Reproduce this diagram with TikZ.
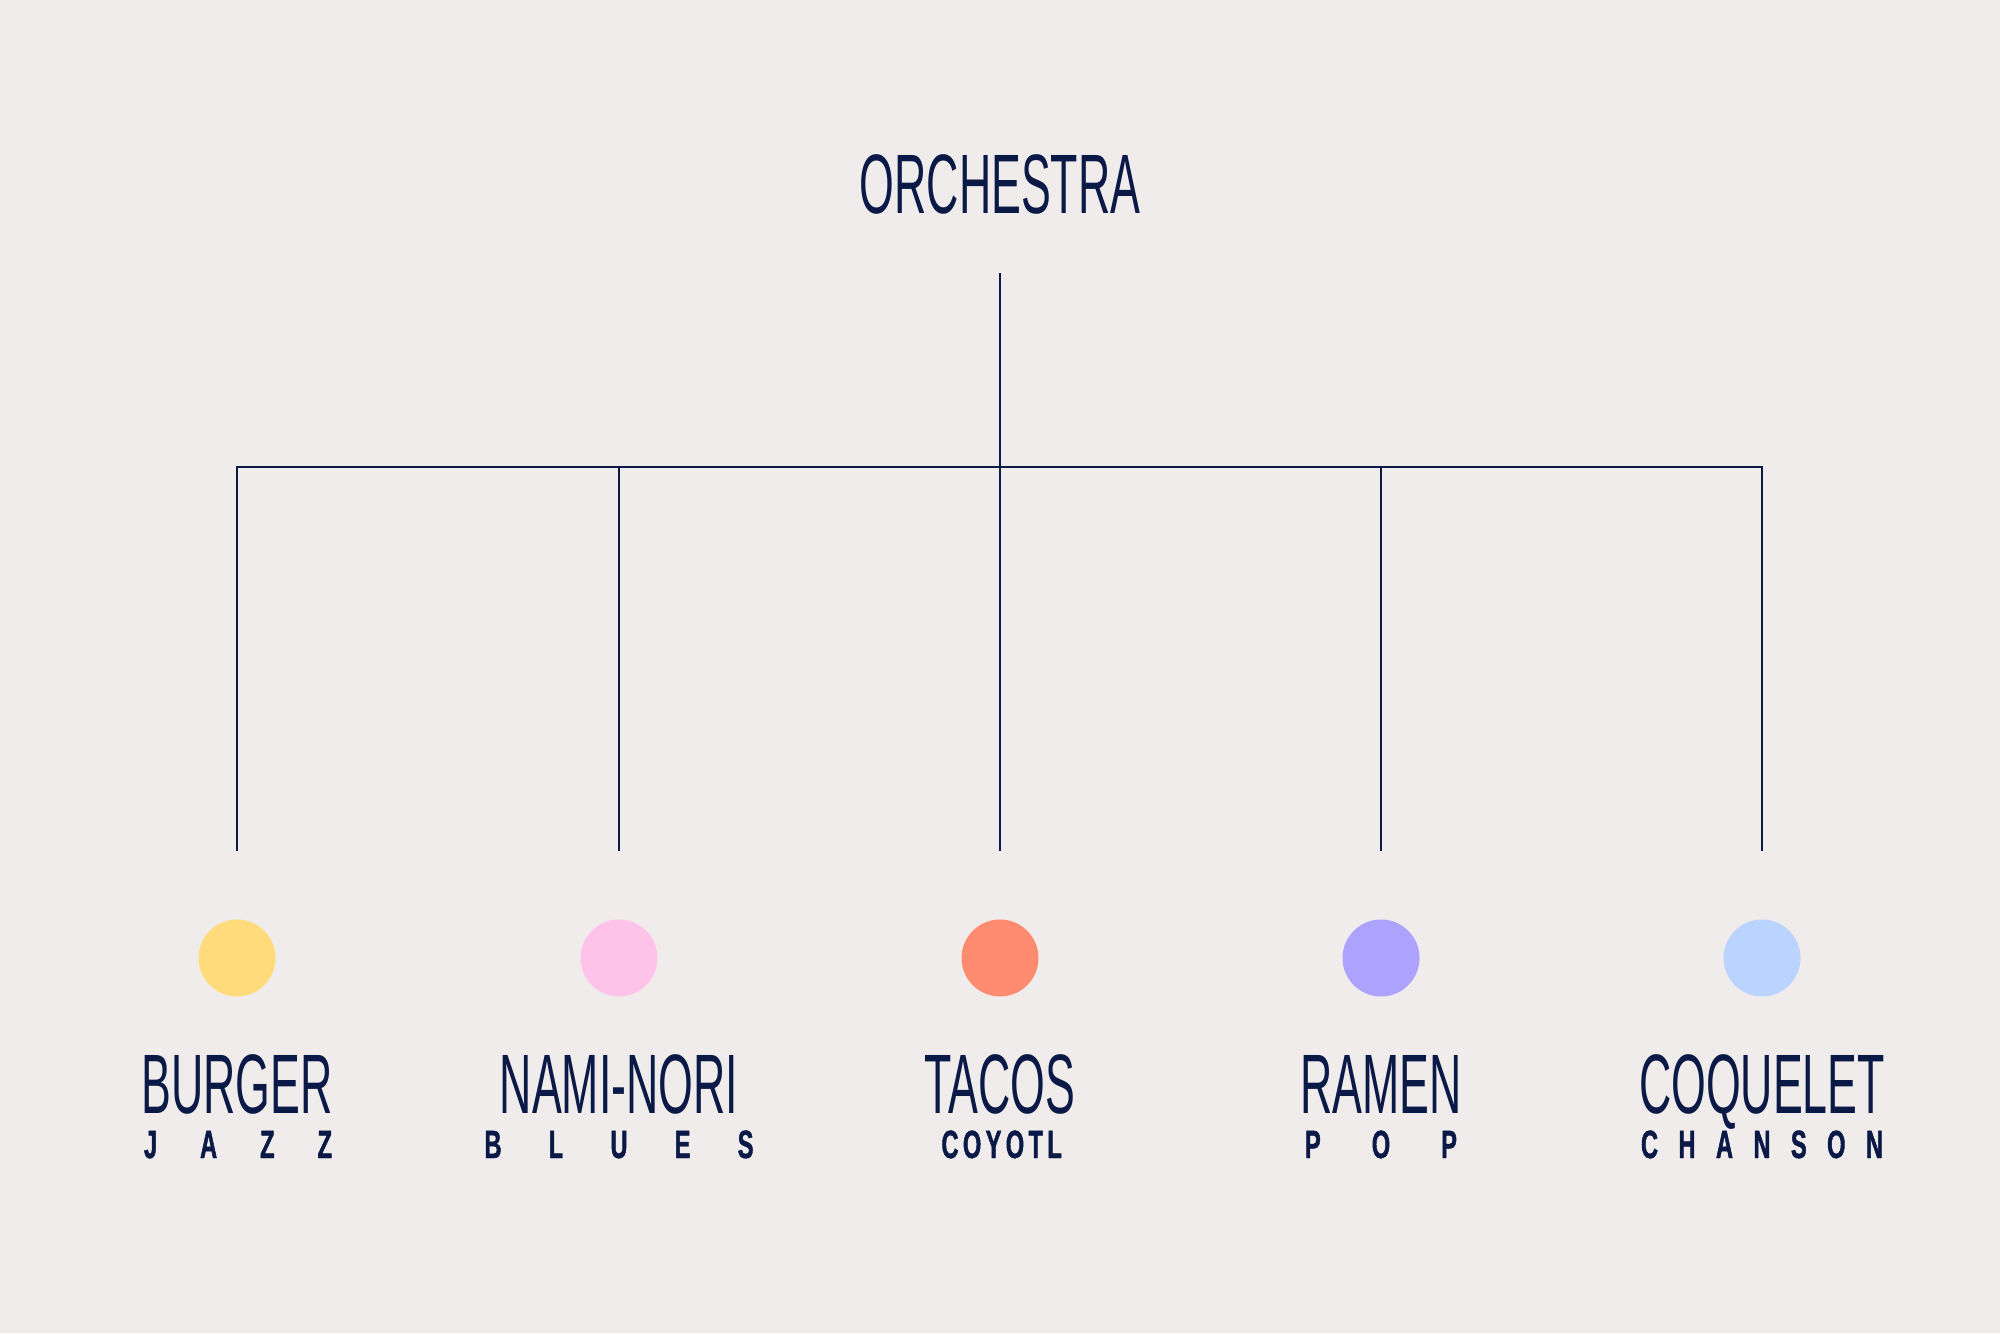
\documentclass[tikz,border=0pt]{standalone}
\usepackage{fontspec}
\setmainfont{Liberation Sans}
\newfontfamily\titlefont[FakeStretch=0.53]{Liberation Sans}
\newfontfamily\genrefont[FakeStretch=0.6,FakeBold=1.2]{Liberation Sans Bold}
\usetikzlibrary{positioning}
\definecolor{paper}{RGB}{240,236,235}
\definecolor{navy}{RGB}{10,25,70}
\definecolor{dotyellow}{RGB}{255,219,123}
\definecolor{dotpink}{RGB}{255,195,234}
\definecolor{dotorange}{RGB}{255,140,112}
\definecolor{dotpurple}{RGB}{173,163,255}
\definecolor{dotblue}{RGB}{187,211,255}
\tikzset{
  dishname/.style={text=navy,inner sep=0,anchor=base,font=\titlefont\fontsize{24}{24}\selectfont},
  genre/.style={text=navy,inner sep=0,anchor=base,font=\genrefont\fontsize{11.2}{11.2}\selectfont},
  dot/.style={circle,inner sep=0,minimum size=0.77cm},
  branch/.style={draw=navy,line width=0.65pt,shorten >=0.68cm}
}
\begin{document}
\begin{tikzpicture}
\fill[paper] (0,0) rectangle (20,13.33);
\useasboundingbox (0,0) rectangle (20,13.33);
\node (orchestra) [dishname] at (10,11.19) {ORCHESTRA};
\coordinate (hub) at (10,8.66);
% restaurants
\node (burgerdot) [dot,fill=dotyellow] at (2.37,3.75) {};
\node (naminoridot) [dot,fill=dotpink] at (6.19,3.75) {};
\node (tacosdot) [dot,fill=dotorange] at (10,3.75) {};
\node (ramendot) [dot,fill=dotpurple] at (13.81,3.75) {};
\node (coqueletdot) [dot,fill=dotblue] at (17.62,3.75) {};
\node (burger) [dishname] at (2.37,2.19) {BURGER};
\node (naminori) [dishname] at (6.19,2.19) {NAMI-NORI};
\node (tacos) [dishname] at (10,2.19) {TACOS};
\node (ramen) [dishname] at (13.81,2.19) {RAMEN};
\node (coquelet) [dishname] at (17.62,2.19) {COQUELET};
\node (jazz) [genre] at (2.38,1.75) {\makebox[1.88cm][s]{J A Z Z}};
\node (blues) [genre] at (6.19,1.75) {\makebox[2.69cm][s]{B L U E S}};
\node (coyotl) [genre] at (10,1.75) {\makebox[1.17cm][s]{C O Y O T L}};
\node (pop) [genre] at (13.81,1.75) {\makebox[1.52cm][s]{P O P}};
\node (chanson) [genre] at (17.62,1.75) {\makebox[2.42cm][s]{C H A N S O N}};
% tree
\draw[draw=navy,line width=0.65pt] ([yshift=-0.59cm]orchestra.base) -- (hub);
\draw[branch] (hub) -| (burgerdot.north);
\draw[branch] (hub) -| (naminoridot.north);
\draw[branch] (hub) -- (tacosdot.north);
\draw[branch] (hub) -| (ramendot.north);
\draw[branch] (hub) -| (coqueletdot.north);
\end{tikzpicture}
\end{document}
